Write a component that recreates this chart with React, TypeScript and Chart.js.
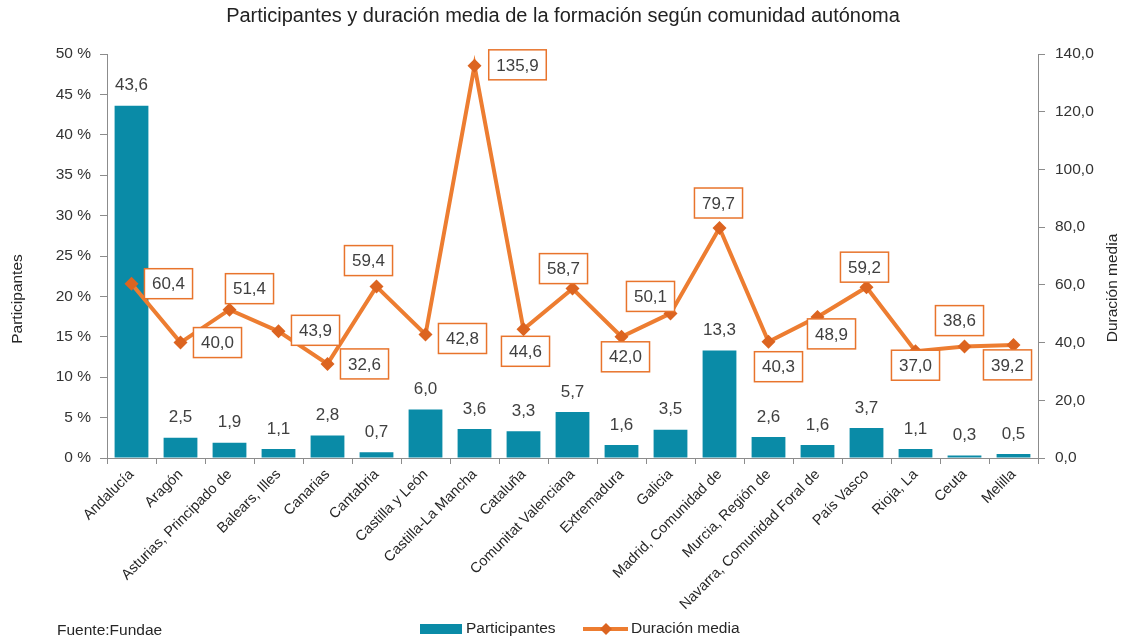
import React, { useEffect, useRef } from "react";
import { Chart, registerables } from "chart.js";

Chart.register(...registerables);

const FONT = "'Liberation Sans', Arial, sans-serif";

const categories = [
  "Andalucía",
  "Aragón",
  "Asturias, Principado de",
  "Balears, Illes",
  "Canarias",
  "Cantabria",
  "Castilla y León",
  "Castilla-La Mancha",
  "Cataluña",
  "Comunitat Valenciana",
  "Extremadura",
  "Galicia",
  "Madrid, Comunidad de",
  "Murcia, Región de",
  "Navarra, Comunidad Foral de",
  "País Vasco",
  "Rioja, La",
  "Ceuta",
  "Melilla",
];

const participantes = [43.6, 2.5, 1.9, 1.1, 2.8, 0.7, 6.0, 3.6, 3.3, 5.7, 1.6, 3.5, 13.3, 2.6, 1.6, 3.7, 1.1, 0.3, 0.5];

const duracionMedia = [60.4, 40.0, 51.4, 43.9, 32.6, 59.4, 42.8, 135.9, 44.6, 58.7, 42.0, 50.1, 79.7, 40.3, 48.9, 59.2, 37.0, 38.6, 39.2];

const leftTicksMax = 50;
const leftTicksStep = 5;
const rightTicksMax = 140;
const rightTicksStep = 20;

// label box placement relative to each marker (dx, dy)
const lineLabelOffsets: [number, number][] = [
  [37, 0], [37, 0], [20, -21], [37, -1], [37, 0], [-8, -26], [37, 4], [43, -1], [2, 22], [-9, -20],
  [4, 20], [-20, -17], [-1, -25], [10, 25], [14, 17], [-2, -20], [0, 14], [-5, -26], [-6, 20],
];

const TITLE = "Participantes y duración media de la formación según comunidad autónoma";
const SOURCE = "Fuente:Fundae";

const BAR_COLOR = "#0a8ba7";
const LINE_COLOR = "#ED7D31";
const MARKER_COLOR = "#DC6420";
const BOX_COLOR = "#E8742C";
const TEXT_COLOR = "#404040";
const AXIS_COLOR = "#8c8c8c";

const fmt = (v: number) => v.toFixed(1).replace(".", ",");

const decorPlugin = {
  id: "decor",
  afterDatasetsDraw(chart: any) {
    const ctx = chart.ctx as CanvasRenderingContext2D;
    ctx.save();
    ctx.textAlign = "center";
    ctx.textBaseline = "middle";
    ctx.font = `17px ${FONT}`;
    // bar labels
    const barMeta = chart.getDatasetMeta(1);
    barMeta.data.forEach((el: any, i: number) => {
      ctx.fillStyle = TEXT_COLOR;
      ctx.fillText(fmt(participantes[i]), el.x, el.y - 20);
    });
    // line labels
    const lineMeta = chart.getDatasetMeta(0);
    lineMeta.data.forEach((el: any, i: number) => {
      const [dx, dy] = lineLabelOffsets[i];
      const cx = el.x + dx;
      const cy = el.y + dy;
      const t = fmt(duracionMedia[i]);
      const w = ctx.measureText(t).width + 15;
      const h = 30;
      ctx.fillStyle = "#ffffff";
      ctx.fillRect(cx - w / 2, cy - h / 2, w, h);
      ctx.strokeStyle = BOX_COLOR;
      ctx.lineWidth = 1.5;
      ctx.strokeRect(cx - w / 2, cy - h / 2, w, h);
      ctx.fillStyle = TEXT_COLOR;
      ctx.fillText(t, cx, cy + 1);
    });
    ctx.restore();
  },
  afterDraw(chart: any) {
    const ctx = chart.ctx as CanvasRenderingContext2D;
    const area = chart.chartArea;
    ctx.save();
    ctx.fillStyle = "#262626";
    ctx.font = `15.5px ${FONT}`;
    ctx.textAlign = "center";
    ctx.textBaseline = "middle";
    // axis titles
    ctx.save();
    ctx.translate(18, area.top + 245);
    ctx.rotate(-Math.PI / 2);
    ctx.fillText("Participantes", 0, 0);
    ctx.restore();
    ctx.save();
    ctx.translate(1113, area.top + 234);
    ctx.rotate(-Math.PI / 2);
    ctx.fillText("Duración media", 0, 0);
    ctx.restore();
    // source
    ctx.textAlign = "left";
    ctx.fillText(SOURCE, 57, 631);
    // legend
    const ly = 629;
    ctx.fillStyle = BAR_COLOR;
    ctx.fillRect(420, ly - 5, 42, 10);
    ctx.fillStyle = "#262626";
    ctx.fillText("Participantes", 466, ly);
    ctx.strokeStyle = LINE_COLOR;
    ctx.lineWidth = 4;
    ctx.beginPath();
    ctx.moveTo(583, ly);
    ctx.lineTo(628, ly);
    ctx.stroke();
    ctx.fillStyle = MARKER_COLOR;
    ctx.beginPath();
    ctx.moveTo(606, ly - 6);
    ctx.lineTo(612, ly);
    ctx.lineTo(606, ly + 6);
    ctx.lineTo(600, ly);
    ctx.closePath();
    ctx.fill();
    ctx.fillStyle = "#262626";
    ctx.fillText("Duración media", 631, ly);
    ctx.restore();
  },
};

export default function App() {
  const ref = useRef<HTMLCanvasElement | null>(null);

  useEffect(() => {
    if (!ref.current) return;
    const chart = new Chart(ref.current, {
      type: "bar",
      data: {
        labels: categories,
        datasets: [
          {
            type: "line",
            label: "Duración media",
            data: duracionMedia,
            yAxisID: "y1",
            borderColor: LINE_COLOR,
            backgroundColor: MARKER_COLOR,
            borderWidth: 4,
            pointStyle: "rectRot",
            pointRadius: 7,
            pointBackgroundColor: MARKER_COLOR,
            pointBorderColor: MARKER_COLOR,
            pointBorderWidth: 0,
            tension: 0,
            order: 0,
          } as any,
          {
            type: "bar",
            label: "Participantes",
            data: participantes,
            yAxisID: "y",
            backgroundColor: BAR_COLOR,
            barPercentage: 0.69,
            categoryPercentage: 1,
            order: 1,
          } as any,
        ],
      },
      options: {
        animation: false,
        responsive: true,
        maintainAspectRatio: false,
        layout: { padding: { top: 0, bottom: 0, left: 0, right: 0 } },
        plugins: {
          legend: { display: false },
          tooltip: { enabled: false },
          title: {
            display: true,
            text: TITLE,
            color: "#222222",
            font: { family: FONT, size: 20, weight: "normal" },
            padding: { top: 4, bottom: 26 },
          },
        },
        scales: {
          x: {
            grid: {
              display: true,
              drawOnChartArea: false,
              drawTicks: true,
              tickLength: 6,
              color: AXIS_COLOR,
              offset: true,
            },
            border: { display: true, color: AXIS_COLOR, width: 1 },
            ticks: {
              autoSkip: false,
              minRotation: 45,
              maxRotation: 45,
              padding: 2,
              color: "#262626",
              font: { family: FONT, size: 14.5 },
            },
            afterFit: (scale: any) => {
              scale.height = 639 - 458;
            },
          },
          y: {
            position: "left",
            min: 0,
            max: leftTicksMax,
            grid: {
              display: true,
              drawOnChartArea: false,
              drawTicks: true,
              tickLength: 7,
              color: AXIS_COLOR,
            },
            border: { display: true, color: AXIS_COLOR, width: 1 },
            ticks: {
              stepSize: leftTicksStep,
              padding: 9,
              color: "#333333",
              font: { family: FONT, size: 15.5 },
              callback: (v: any) => `${v} %`,
            },
            afterFit: (scale: any) => {
              scale.width = 107;
            },
          },
          y1: {
            position: "right",
            min: 0,
            max: rightTicksMax,
            grid: {
              display: true,
              drawOnChartArea: false,
              drawTicks: true,
              tickLength: 7,
              color: AXIS_COLOR,
            },
            border: { display: true, color: AXIS_COLOR, width: 1 },
            ticks: {
              stepSize: rightTicksStep,
              padding: 10,
              color: "#333333",
              font: { family: FONT, size: 15.5 },
              callback: (v: any) => fmt(Number(v)),
            },
            afterFit: (scale: any) => {
              scale.width = 1126 - 1038;
            },
          },
        },
      } as any,
      plugins: [decorPlugin],
    });
    return () => chart.destroy();
  }, []);

  return (
    <div style={{ position: "absolute", left: 0, top: 0, width: 1126, height: 639, background: "#fff" }}>
      <canvas ref={ref} />
    </div>
  );
}
